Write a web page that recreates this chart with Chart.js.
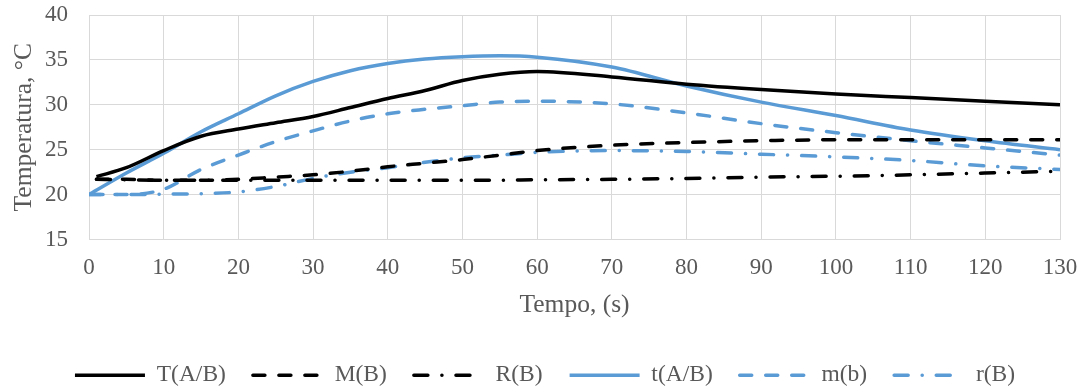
<!DOCTYPE html>
<html>
<head>
	<title>Temperatura</title>
	<style>
        body {
    margin:0;
    background-color:white;
}
    </style>
</head>
<body>
<canvas id="myChart" width="1089" height="391"></canvas>
<script src="https://cdn.jsdelivr.net/npm/chart.js@4.4.1/dist/chart.umd.min.js"></script>
<script type="text/javascript">

	// time axis (s)
	var timeBlack = [1, 5, 10, 15, 20, 25, 30, 35, 40, 45, 50, 55, 60, 70, 80, 90, 100, 110, 120, 130];
	var timeBlue = [0, 5, 10, 15, 20, 25, 30, 35, 40, 45, 50, 55, 60, 70, 80, 90, 100, 110, 120, 130];

	// temperatures (C)
	var T_AB = [22.0, 23.0, 24.9, 26.5, 27.3, 28.0, 28.7, 29.7, 30.7, 31.6, 32.7, 33.4, 33.7, 33.1, 32.3, 31.7, 31.2, 30.8, 30.4, 30.0];
	var M_B = [21.7, 21.7, 21.6, 21.6, 21.7, 21.95, 22.2, 22.6, 23.1, 23.5, 23.9, 24.4, 24.9, 25.5, 25.8, 26.0, 26.1, 26.1, 26.1, 26.1];
	var R_B = [21.7, 21.65, 21.6, 21.6, 21.6, 21.6, 21.6, 21.6, 21.6, 21.6, 21.6, 21.6, 21.65, 21.7, 21.8, 21.95, 22.05, 22.2, 22.4, 22.6];
	var t_AB = [20.0, 22.4, 24.6, 27.0, 29.0, 31.0, 32.6, 33.8, 34.6, 35.1, 35.35, 35.45, 35.3, 34.2, 32.1, 30.3, 28.8, 27.2, 26.0, 25.0];
	var m_b = [20.0, 20.0, 20.6, 22.8, 24.4, 25.9, 27.1, 28.2, 29.0, 29.5, 29.9, 30.3, 30.4, 30.1, 29.1, 27.9, 26.9, 26.0, 25.2, 24.4];
	var r_B = [20.0, 20.0, 20.05, 20.1, 20.3, 20.9, 21.8, 22.5, 23.0, 23.6, 24.1, 24.4, 24.7, 24.9, 24.8, 24.5, 24.2, 23.8, 23.2, 22.8];

	var labels = ["T(A/B)", "M(B)", "R(B)", "t(A/B)", "m(b)", "r(B)"];
	var xTicks = {min: 0, max: 130, step: 10};
	var yTicks = {min: 15, max: 40, step: 5};

	var BLACK = '#000000';
	var BLUE = '#5B9BD5';
	var LW = 3.5;
	var DASH = [12, 14];
	var DASHDOT = [14, 14, 0.1, 14];
	var FONT = "'Liberation Serif', 'Times New Roman', serif";

	function points(xs, ys){
		var out = [];
		for(var i=0; i<xs.length; i++){
			out.push({x: xs[i], y: ys[i]});
		}
		return out;
	}

	function series(label, xs, ys, color, dash){
		return {
			label: label,
			data: points(xs, ys),
			borderColor: color,
			backgroundColor: color,
			borderWidth: LW,
			borderDash: dash,
			borderCapStyle: dash.length ? 'round' : 'butt',
			pointRadius: 0,
			pointHoverRadius: 0,
			fill: false,
			cubicInterpolationMode: 'monotone'
		};
	}

	// legend items with the dataset line styles
	function legendLabels(chart){
		return chart.data.datasets.map(function(ds, i){
			return {
				text: ds.label,
				fillStyle: ds.borderColor,
				strokeStyle: ds.borderColor,
				lineWidth: LW,
				lineDash: ds.borderDash,
				lineCap: ds.borderCapStyle,
				pointStyle: 'line',
				fontColor: '#595959',
				datasetIndex: i,
				hidden: false
			};
		});
	}

	// push the legend row a bit right, like the original
	var shiftLegend = {
		id: 'shiftLegend',
		afterLayout: function(chart){
			chart.legend.left += 15;
			chart.legend.right += 15;
		}
	};

	var config = {
		type: 'line',
		data: {
			datasets: [
				series(labels[0], timeBlack, T_AB, BLACK, []),
				series(labels[1], timeBlack, M_B, BLACK, DASH),
				series(labels[2], timeBlack, R_B, BLACK, DASHDOT),
				series(labels[3], timeBlue, t_AB, BLUE, []),
				series(labels[4], timeBlue, m_b, BLUE, DASH),
				series(labels[5], timeBlue, r_B, BLUE, DASHDOT)
			]
		},
		options: {
			responsive: false,
			animation: false,
			layout: {padding: {left: 0, right: 29, top: 15, bottom: -6}},
			plugins: {
				tooltip: {enabled: false},
				legend: {
					position: 'bottom',
					labels: {
						usePointStyle: true,
						pointStyle: 'line',
						pointStyleWidth: 70,
						padding: 27,
						color: '#595959',
						font: {family: FONT, size: 23.5},
						generateLabels: legendLabels
					}
				}
			},
			scales: {
				x: {
					type: 'linear',
					min: xTicks.min,
					max: xTicks.max,
					afterFit: function(scale){ scale.height = 97; scale.paddingLeft = 0; scale.paddingRight = 0; },
					ticks: {stepSize: xTicks.step, padding: 15, color: '#595959', font: {family: FONT, size: 23}},
					grid: {color: '#d9d9d9', lineWidth: 1, drawTicks: false},
					border: {color: '#d9d9d9'},
					title: {display: true, text: 'Tempo, (s)', color: '#595959', font: {family: FONT, size: 25.5}, padding: {top: 0, bottom: 16}}
				},
				y: {
					min: yTicks.min,
					max: yTicks.max,
					afterFit: function(scale){ scale.width = 89; scale.paddingTop = 0; scale.paddingBottom = 0; },
					ticks: {stepSize: yTicks.step, padding: 21, color: '#595959', font: {family: FONT, size: 23}},
					grid: {color: '#d9d9d9', lineWidth: 1, drawTicks: false},
					border: {color: '#d9d9d9'},
					title: {display: true, text: 'Temperatura, °C', color: '#595959', font: {family: FONT, size: 25.5}, padding: {top: 9, bottom: 0}}
				}
			}
		},
		plugins: [shiftLegend]
	};

	var ctx = document.getElementById("myChart").getContext("2d");
	window.myLine = new Chart(ctx, config);

</script>
</body>
</html>
